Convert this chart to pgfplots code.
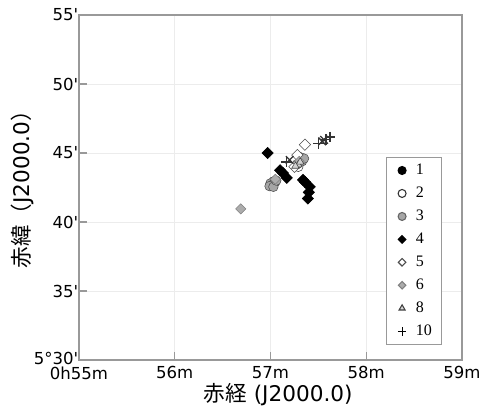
\documentclass[border=0pt]{standalone}
\usepackage{pgfplots}
\pgfplotsset{compat=1.18}
\usepackage{fontspec}
\setmainfont{DejaVu Sans}[Ligatures=TeXOff]
\newfontfamily\cjk{Noto Sans CJK JP}
\newfontfamily\legfont{Liberation Serif}
\begin{document}
\begin{tikzpicture}
\begin{axis}[
  scale only axis, width=287.25pt, height=258.75pt,
  xmin=55, xmax=59, ymin=30, ymax=55,
  xtick={55,56,57,58,59}, xticklabels={0h55m,56m,57m,58m,59m},
  ytick={30,35,40,45,50,55}, yticklabels={\raisebox{2.5pt}{5°30'},35',40',45',50',55'},
  /pgf/number format/assume math mode=true,
  tick label style={font=\fontsize{12.4}{13}\selectfont},
  xtick pos=left, ytick pos=left, tick align=inside,
  major tick length=6pt,
  tick style={gray!80, line width=0.8pt},
  axis line style={gray!80, line width=0.8pt},
  grid=major, grid style={gray!15, line width=0.6pt},
  xticklabel style={yshift=-1.5pt},
  yticklabel style={xshift=3pt},
  xlabel={{\cjk 赤経} (J2000.0)},
  ylabel={{\cjk 赤緯（}J2000.0{\cjk ）}},
  label style={font=\fontsize{16.2}{18}\selectfont},
  x label style={at={(axis description cs:0.52,-0.1)}, anchor=center},
  y label style={at={(axis description cs:-0.149,0.51)}, anchor=center, rotate=0},
  legend cell align=left,
  legend image code/.code={\draw[#1] plot coordinates {(6pt,0pt)}; \path (0pt,0pt) (14pt,0pt);},
  legend style={at={(axis cs:58.21,44.71)}, anchor=north west, draw=gray!80, line width=0.8pt,
     font=\legfont\fontsize{12}{13}\selectfont, row sep=3.8pt, inner xsep=5pt, inner ysep=3pt},
]
% series 1
\addplot[only marks, mark=*, mark size=3.4pt, draw=black, fill=black, forget plot] coordinates {(57.30,44.25) (57.03,42.95)};
% series 2
\addplot[only marks, mark=*, mark size=3.6pt, draw=black!75, fill=white, forget plot] coordinates {(57.01,42.65) (57.05,42.9) (57.33,44.55) (57.29,44.0)};
% series 3
\addplot[only marks, mark=*, mark size=3.6pt, draw=black!70, fill=gray!70, forget plot] coordinates {(57.00,42.8) (57.02,42.7) (57.04,42.85) (56.99,42.6) (57.03,42.55) (57.06,43.0) (57.31,44.7) (57.33,44.4) (57.28,44.2) (57.35,44.6)};
% series 4
\addplot[only marks, mark=square*, mark size=3pt, mark options={rotate=45}, draw=black, fill=black, forget plot] coordinates {(56.97,45.0) (57.13,43.55) (57.17,43.2) (57.10,43.75) (57.34,43.05) (57.41,42.55) (57.40,42.15) (57.39,41.7) (57.36,42.9)};
% series 5
\addplot[only marks, mark=square*, mark size=3pt, mark options={rotate=45}, draw=black!70, fill=white, forget plot] coordinates {(57.36,45.6) (57.28,44.85) (57.25,44.0)};
% series 6
\addplot[only marks, mark=square*, mark size=2.7pt, mark options={rotate=45}, draw=gray, fill=gray!65, forget plot] coordinates {(56.69,40.95) (57.05,43.1) (57.30,44.4)};
% series 8
\addplot[only marks, mark=triangle*, mark size=3.2pt, draw=black!75, fill=gray!35, forget plot] coordinates {(57.29,44.15) (57.31,44.35) (57.26,44.05)};
% series 10
\addplot[only marks, mark=+, mark size=4pt, draw=black!80, line width=1pt, forget plot] coordinates {(57.50,45.7) (57.58,46.0) (57.62,46.15) (57.17,44.35)};
\addplot[only marks, mark=+, mark size=4pt, mark options={rotate=45}, draw=black!80, line width=1pt, forget plot] coordinates {(57.54,45.85) (57.56,45.95) (57.20,44.5)};
% legend images
\addlegendimage{only marks, mark=*, mark size=3pt, draw=black, fill=black}
\addlegendentry{1}
\addlegendimage{only marks, mark=*, mark size=3pt, draw=black!80, fill=white}
\addlegendentry{2}
\addlegendimage{only marks, mark=*, mark size=3pt, draw=black!60, fill=gray!70}
\addlegendentry{3}
\addlegendimage{only marks, mark=square*, mark size=2pt, mark options={rotate=45}, draw=black, fill=black}
\addlegendentry{4}
\addlegendimage{only marks, mark=square*, mark size=2pt, mark options={rotate=45}, draw=black!70, fill=white}
\addlegendentry{5}
\addlegendimage{only marks, mark=square*, mark size=2pt, mark options={rotate=45}, draw=gray, fill=gray!65}
\addlegendentry{6}
\addlegendimage{only marks, mark=triangle*, mark size=2.6pt, draw=black!75, fill=gray!30}
\addlegendentry{8}
\addlegendimage{only marks, mark=+, mark size=3.2pt, draw=black}
\addlegendentry{10}
\end{axis}
\pgfresetboundingbox
\useasboundingbox (-59.25pt,-38.25pt) rectangle (310.5pt,270pt);
\end{tikzpicture}
\end{document}
